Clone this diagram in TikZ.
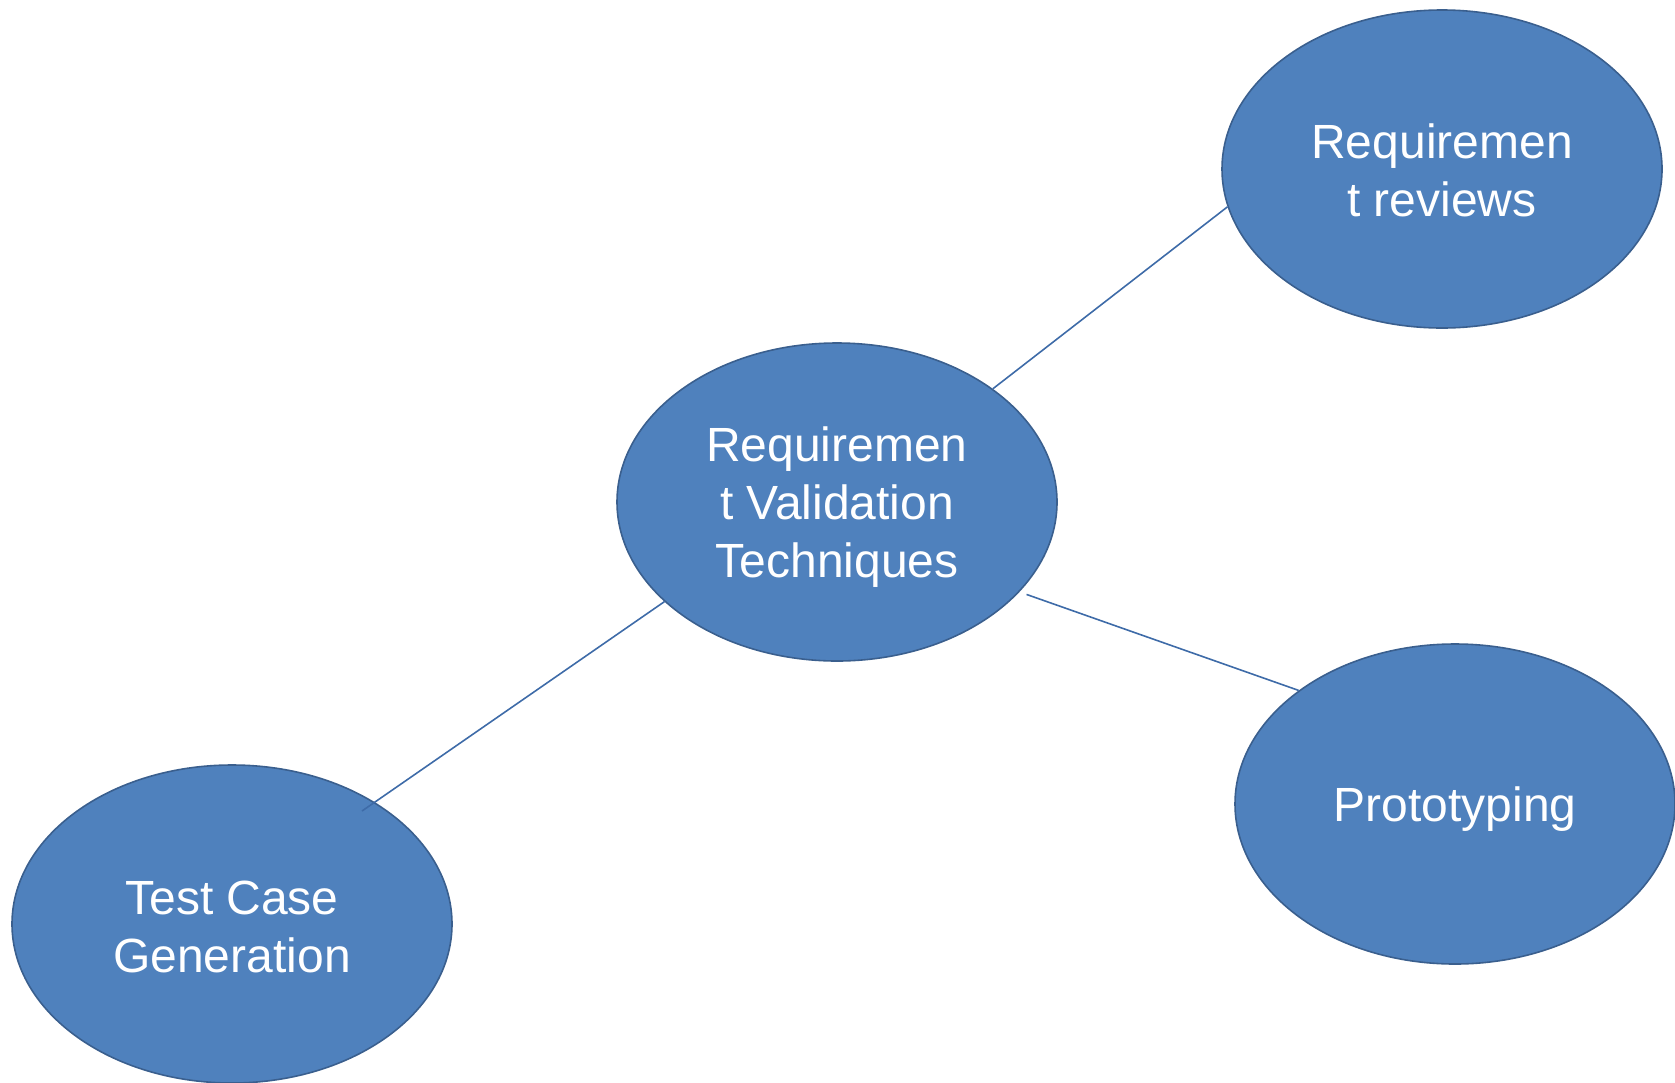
\documentclass[tikz,border=0pt]{standalone}
\usepackage{fontspec}
\setmainfont{Liberation Sans}
\usetikzlibrary{shapes.geometric,calc}
\definecolor{bubblefill}{HTML}{4F81BD}
\definecolor{bubbleedge}{HTML}{3A5F8E}
\definecolor{linkline}{HTML}{3E6BA8}
\begin{document}
\begin{tikzpicture}[x=1pt,y=-1pt,
  bubble/.style={ellipse, draw=bubbleedge, line width=1.6pt, fill=bubblefill,
    minimum width=440pt, minimum height=318pt, inner sep=0pt},
  caption/.style={text=white, align=center, yshift=-5pt,
    font=\fontsize{48}{57.7}\selectfont},
  link/.style={draw=linkline, line width=1.6pt}]
  \useasboundingbox (0,0) rectangle (1675,1082);
  \node[bubble, label={[caption]center:Requiremen\\t Validation\\Techniques}]
    (center) at (837,502) {};
  \node[bubble, label={[caption, yshift=4pt]center:Requiremen\\t reviews}]
    (reviews) at (1442,169) {};
  \node[bubble, minimum height=320pt, label={[caption]center:Prototyping}]
    (proto) at (1455,804) {};
  \node[bubble, label={[caption, yshift=2pt]center:Test Case\\Generation}]
    (tests) at (232,924) {};
  \draw[link] (center.36) -- (reviews.190);
  \draw[link] ($(center.center)!1.035!(center.-26)$) -- (proto.144);
  \draw[link] (center.210) -- ($(tests.center)!0.92!(tests.41)$);
\end{tikzpicture}
\end{document}
